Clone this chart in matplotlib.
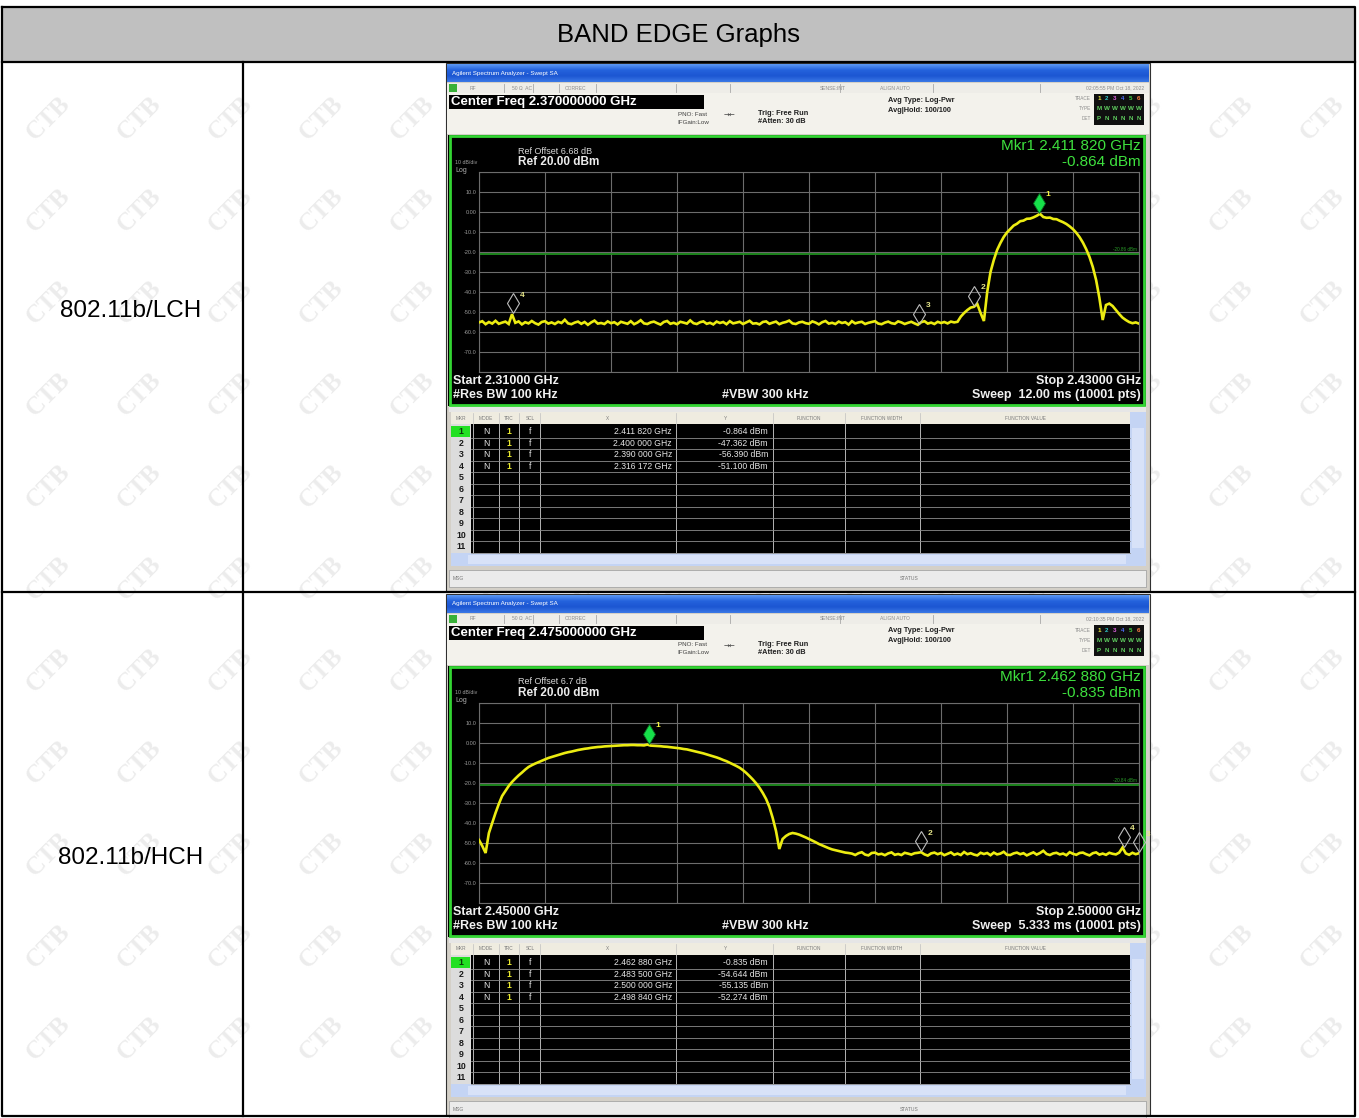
import numpy as np
import matplotlib
matplotlib.use("Agg")
import matplotlib.pyplot as plt
from matplotlib.patches import Rectangle
from matplotlib.transforms import offset_copy
from matplotlib.colors import to_rgb

plt.rcParams["font.family"] = ["Liberation Sans", "DejaVu Sans"]

# ---------------- data ----------------
TABLE_TITLE = "BAND EDGE Graphs"
ROW_LABELS = ["802.11b/LCH", "802.11b/HCH"]
REF_LEVEL_DBM = 20.0
DB_PER_DIV = 10.0

LCH_CENTER_FREQ = "2.370000000 GHz"
LCH_REF_OFFSET = "6.68 dB"
LCH_START_GHZ = 2.310
LCH_STOP_GHZ = 2.430
LCH_SWEEP = "12.00 ms"
LCH_TIME = "02:05:55 PM Oct 18, 2022"
LCH_DISPLAY_LINE_DBM = -20.86
LCH_LEVELS_DBM = [
    -55.2, -54.6, -56.1, -55.0, -55.8, -54.4, -55.9, -55.3, -54.8, -56.0,
    -51.1, -55.4, -54.7, -56.2, -55.1, -55.7, -54.5, -55.6, -56.3, -55.0,
    -54.6, -55.8, -55.2, -56.0, -54.9, -55.5, -53.9, -55.7, -56.1, -55.3,
    -54.8, -55.9, -55.0, -56.4, -55.2, -54.3, -55.8, -55.5, -56.0, -54.7,
    -55.6, -55.1, -56.2, -54.9, -55.4, -55.9, -54.6, -56.1, -55.3, -54.1,
    -55.7, -56.0, -55.2, -54.8, -55.6, -56.3, -55.0, -54.5, -55.9, -55.4,
    -56.1, -54.9, -55.3, -55.8, -54.2, -55.6, -56.0, -55.1, -54.7, -55.9,
    -55.4, -56.2, -54.8, -55.5, -55.0, -56.1, -54.6, -55.7, -55.3, -54.9,
    -56.0, -55.2, -54.4, -55.8, -55.6, -56.2, -55.0, -54.7, -55.9, -55.3,
    -54.8, -56.1, -55.4, -55.0, -54.3, -55.7, -56.0, -55.2, -54.9, -55.6,
    -55.9, -54.7, -55.3, -56.2, -55.1, -54.5, -55.8, -55.4, -56.0, -54.8,
    -55.5, -55.1, -56.3, -54.6, -55.7, -55.2, -54.9, -56.0, -55.4, -55.0,
    -54.6, -55.8, -56.1, -55.3, -54.8, -55.6, -55.9, -54.7, -55.2, -56.0,
    -55.4, -54.9, -55.7, -56.4, -55.1, -54.6, -55.8, -55.3, -56.0, -54.9,
    -55.5, -55.0, -55.7, -54.8, -55.2, -54.9,
    -52.3, -50.5, -49.0, -47.8, -47.4, -46.0, -50.5, -54.5, -40.0, -30.0,
    -24.0, -19.0, -15.5, -12.5, -10.2, -8.5, -6.8, -5.9, -4.6, -4.3,
    -3.4, -3.3, -2.7, -1.9, -0.9, -2.5, -2.9, -2.8, -3.5, -3.6,
    -4.4, -5.1, -6.0, -7.2, -8.6, -10.4, -12.6, -15.3, -18.6, -22.5,
    -27.5, -34.0, -43.0, -54.0, -46.5, -45.8, -47.0, -49.0, -51.0, -52.8,
    -54.0, -55.0, -55.6, -55.2, -55.8,
]
LCH_MKR_FREQ_GHZ = [2.411820, 2.400000, 2.390000, 2.316172]
LCH_MKR_LEVEL_DBM = [-0.864, -47.362, -56.390, -51.100]

HCH_CENTER_FREQ = "2.475000000 GHz"
HCH_REF_OFFSET = "6.7 dB"
HCH_START_GHZ = 2.450
HCH_STOP_GHZ = 2.500
HCH_SWEEP = "5.333 ms"
HCH_TIME = "02:10:35 PM Oct 18, 2022"
HCH_DISPLAY_LINE_DBM = -20.84
HCH_LEVELS_DBM = [
    -48.5, -51.5, -55.0, -45.0, -40.0, -35.0, -30.5, -26.5, -24.0, -21.5,
    -19.5, -17.8, -16.2, -14.8, -13.3, -12.0, -11.1, -10.3, -9.6, -8.9,
    -8.2, -7.5, -7.0, -6.5, -6.0, -5.5, -5.0, -4.6, -4.3, -3.9,
    -3.5, -3.2, -2.9, -2.7, -2.4, -2.2, -2.0, -1.9, -1.7, -1.6,
    -1.5, -1.4, -1.3, -1.2, -1.1, -1.1, -1.0, -1.0, -1.1, -1.1,
    -1.2, -0.8, -1.3, -1.4, -1.5, -1.6, -1.8, -1.9, -2.1, -2.3,
    -2.5, -2.7, -3.0, -3.2, -3.6, -4.0, -4.4, -4.8, -5.2, -5.7,
    -6.2, -6.7, -7.2, -7.8, -8.5, -9.1, -9.9, -10.7, -11.5, -12.4,
    -13.6, -15.0, -16.6, -18.3, -20.2, -22.4, -25.0, -28.0, -32.0, -37.5,
    -44.0, -53.0, -48.0, -46.5, -45.5, -45.0, -45.3, -45.8, -46.5, -47.2,
    -48.0, -48.8, -49.6, -50.5, -51.2, -51.9, -52.6, -53.2, -53.6, -54.0,
    -54.4, -54.8, -55.0,
    -55.3, -56.0, -55.1, -54.6, -55.8, -56.2, -55.0, -54.8, -55.7, -55.4,
    -56.1, -55.2, -54.7, -55.9, -55.5, -56.0, -54.9, -55.3, -55.8, -55.1,
    -54.9, -54.6, -55.7, -56.3, -55.2, -54.8, -55.6, -55.0, -56.1, -55.4,
    -54.7, -55.9, -55.3, -56.0, -54.5, -55.6, -55.1, -55.8, -56.2, -54.9,
    -55.5, -55.0, -56.1, -54.8, -55.7, -55.3, -54.4, -55.9, -56.0, -55.2,
    -54.8, -55.6, -55.1, -56.2, -55.4, -54.7, -55.8, -55.0, -53.9, -55.5,
    -56.0, -55.2, -54.9, -55.7, -55.3, -56.1, -54.6, -55.4, -55.9, -55.0,
    -54.8, -55.6, -56.2, -55.1, -54.7, -55.8, -55.3, -55.9, -54.9, -55.4,
    -55.7, -54.8, -52.3, -55.2, -55.9, -54.9, -55.6, -55.1,
]
HCH_MKR_FREQ_GHZ = [2.462880, 2.483500, 2.500000, 2.498840]
HCH_MKR_LEVEL_DBM = [-0.835, -54.644, -55.135, -52.274]

PANELS = [
    dict(center=LCH_CENTER_FREQ, ref_offset=LCH_REF_OFFSET, start=LCH_START_GHZ,
         stop=LCH_STOP_GHZ, sweep=LCH_SWEEP, time=LCH_TIME, dl=LCH_DISPLAY_LINE_DBM,
         levels=LCH_LEVELS_DBM, mf=LCH_MKR_FREQ_GHZ, ml=LCH_MKR_LEVEL_DBM),
    dict(center=HCH_CENTER_FREQ, ref_offset=HCH_REF_OFFSET, start=HCH_START_GHZ,
         stop=HCH_STOP_GHZ, sweep=HCH_SWEEP, time=HCH_TIME, dl=HCH_DISPLAY_LINE_DBM,
         levels=HCH_LEVELS_DBM, mf=HCH_MKR_FREQ_GHZ, ml=HCH_MKR_LEVEL_DBM),
]

# ---------------- figure ----------------
W, H = 1359, 1118
fig = plt.figure(figsize=(W / 100, H / 100), dpi=100)
ax = fig.add_axes([0, 0, 1, 1])
ax.set_xlim(0, W)
ax.set_ylim(H, 0)
ax.axis("off")


def R(x0, y0, x1, y1, **kw):
    kw.setdefault("lw", 0)
    ax.add_patch(Rectangle((x0, y0), x1 - x0, y1 - y0, **kw))


def T(x, y, s, **kw):
    kw.setdefault("va", "center")
    kw.setdefault("zorder", 3)
    ax.text(x, y, s, **kw)


def fmt_ghz(f):
    s = f"{f:.6f}"
    return s[:5] + " " + s[5:]


# watermark (kept fully inside the canvas)
for j in range(0, 11):
    for k in range(0, 15):
        ax.text(48 + 91 * k, 118 + 92 * j, "CTB", rotation=45, fontsize=18,
                fontweight="bold", family="Liberation Serif", color="#ececec",
                ha="center", va="center", rotation_mode="anchor", zorder=0.3)

# table
R(2, 7, 1355, 62, fc="#c0c0c0", zorder=0.5)
T(678.5, 35, TABLE_TITLE, ha="center", fontsize=18.5, color="black")
T(131, 311, ROW_LABELS[0], ha="center", fontsize=17.5, color="black")
T(131, 858, ROW_LABELS[1], ha="center", fontsize=17.5, color="black")
lk = dict(color="black", lw=1.6, zorder=6, solid_capstyle="projecting")
ax.plot([2, 1355, 1355, 2, 2], [7, 7, 1116, 1116, 7], **lk)
ax.plot([2, 1355], [62, 62], **lk)
ax.plot([2, 1355], [592, 592], **lk)
ax.plot([243, 243], [62, 1116], **lk)

GRAD_STOPS = ["#5b97f2", "#2462dc", "#1c56d2", "#3a78e6"]


def draw_screen(dy, p):
    X0, X1 = 446, 1150
    ybot = min(591 + dy, 1115)
    R(X0, 63 + dy, X1, ybot, fc="#d4d0c8", ec="#303030", lw=0.8, zorder=2)
    # title bar
    cols = np.array([to_rgb(c) for c in GRAD_STOPS])
    t = np.linspace(0, 1, 40)
    pos = np.linspace(0, 1, len(GRAD_STOPS))
    grad = np.stack([np.interp(t, pos, cols[:, c]) for c in range(3)], axis=-1)[:, None, :]
    ax.imshow(grad, extent=(X0 + 1, X1 - 1, 82 + dy, 64 + dy), aspect="auto",
              zorder=2.1, interpolation="bilinear")
    T(452, 73 + dy, "Agilent Spectrum Analyzer - Swept SA", fontsize=4.5, color="white")
    # toolbar
    R(X0 + 1, 83 + dy, X1 - 1, 93 + dy, fc="#eeede8", zorder=2.1)
    R(449, 84 + dy, 457, 92 + dy, fc="#38b038", zorder=2.2)
    for xs in [504, 533, 559, 596, 676, 730, 840, 933, 1040]:
        ax.plot([xs, xs], [84 + dy, 92 + dy], color="#a8a8a8", lw=0.6, zorder=2.2)
    tb = dict(fontsize=3.6, color="#8c8c8c")
    T(470, 88 + dy, "RF", **tb)
    T(512, 88 + dy, "50 \u03a9  AC", **tb)
    T(565, 88 + dy, "CORREC", **tb)
    T(820, 88 + dy, "SENSE:INT", **tb)
    T(880, 88 + dy, "ALIGN AUTO", **tb)
    T(1144, 88 + dy, p["time"], ha="right", **tb)
    # status area
    R(X0 + 1, 93 + dy, X1 - 1, 134 + dy, fc="#f3f2ec", zorder=2.1)
    R(449, 95 + dy, 704, 109 + dy, fc="black", zorder=2.2)
    T(451, 102 + dy, "Center Freq " + p["center"], fontsize=9.5, fontweight="bold",
      color="white")
    st = dict(fontsize=4.5, color="#404040")
    T(693, 114 + dy, "PNO: Fast", ha="center", **st)
    T(693, 122 + dy, "IFGain:Low", ha="center", **st)
    T(729, 116 + dy, "\u2192\u2190", ha="center", fontsize=5, color="#404040",
      family="DejaVu Sans")
    sb = dict(fontsize=5.3, color="#202020", fontweight="bold")
    T(758, 113.5 + dy, "Trig: Free Run", **sb)
    T(758, 121.5 + dy, "#Atten: 30 dB", **sb)
    T(888, 100 + dy, "Avg Type: Log-Pwr", **sb)
    T(888, 110 + dy, "Avg|Hold: 100/100", **sb)
    for yy, lab in zip([99, 109, 119], ["TRACE", "TYPE", "DET"]):
        T(1091, yy + dy, lab, ha="right", fontsize=3.4, color="#8c8c8c")
    R(1094, 94 + dy, 1144, 125 + dy, fc="#101010", zorder=2.2)
    row_chars = ["123456", "MWWWWW", "PNNNNN"]
    row_cols = [["#e8e840", "#30c8c8", "#e060e0", "#5070ff", "#40d040", "#ff8040"],
                ["#60d060"] * 6, ["#60d060"] * 6]
    for r, (chars, cc) in enumerate(zip(row_chars, row_cols)):
        for c, ch in enumerate(chars):
            T(1099 + 8 * c, 99 + 10 * r + dy, ch, ha="center", fontsize=4.5,
              color=cc[c], fontweight="bold")
    # plot frame
    R(448, 135 + dy, 1146, 406 + dy, fc="black", zorder=2.1)
    R(450, 136 + dy, 1144, 405 + dy, fc="none", ec="#33d633", lw=2.0, zorder=2.3)
    T(518, 151 + dy, "Ref Offset " + p["ref_offset"], fontsize=6.5, color="#d8d8d8")
    T(518, 162 + dy, f"Ref {REF_LEVEL_DBM:.2f} dBm", fontsize=8.5, fontweight="bold",
      color="#ececec")
    T(455, 162 + dy, f"{DB_PER_DIV:.0f} dB/div", fontsize=3.8, color="#a0a0a0")
    T(455, 170 + dy, "Log", fontsize=5, color="#b0b0b0")
    T(1141, 146 + dy, f"Mkr1 {fmt_ghz(p['mf'][0])} GHz", ha="right", fontsize=11,
      color="#3ee03e")
    T(1141, 162 + dy, f"{p['ml'][0]:.3f} dBm", ha="right", fontsize=11, color="#3ee03e")
    bt = dict(fontsize=9, fontweight="bold", color="#f0f0f0")
    T(453, 381 + dy, f"Start {p['start']:.5f} GHz", **bt)
    T(453, 395 + dy, "#Res BW 100 kHz", **bt)
    T(765, 395 + dy, "#VBW 300 kHz", ha="center", **bt)
    T(1141, 381 + dy, f"Stop {p['stop']:.5f} GHz", ha="right", **bt)
    T(1141, 395 + dy, f"Sweep  {p['sweep']} (10001 pts)", ha="right", **bt)

    # marker table
    R(449, 407 + dy, 1146, 412 + dy, fc="#e6e6e6", zorder=2.1)
    R(451, 412 + dy, 1130, 424 + dy, fc="#efece0", zorder=2.1)
    R(471, 424 + dy, 1130, 553 + dy, fc="black", zorder=2.1)
    R(451, 424 + dy, 471, 553 + dy, fc="#dcdcdc", zorder=2.1)
    R(451, 426 + dy, 470, 437 + dy, fc="#22e022", zorder=2.2)
    hdr = dict(fontsize=3.4, color="#7a7a7a", ha="center")
    for xx, lab in zip([461, 486, 509, 530, 607, 725, 809, 882, 1025],
                       ["MKR", "MODE", "TRC", "SCL", "X", "Y", "FUNCTION",
                        "FUNCTION WIDTH", "FUNCTION VALUE"]):
        T(xx, 418 + dy, lab, **hdr)
    for xx in [473, 499, 519, 540, 676, 773, 845, 920]:
        ax.plot([xx, xx], [413 + dy, 423 + dy], color="#c0c0c0", lw=0.5, zorder=2.2)
        ax.plot([xx, xx], [424 + dy, 553 + dy], color="#b4b4b4", lw=0.7, zorder=2.2)
    for i in range(11):
        yt = 426 + 11.5 * i + dy
        ax.plot([471, 1130], [yt + 11.5, yt + 11.5], color="#8c8c8c", lw=0.6, zorder=2.2)
        T(461, yt + 5.8, str(i + 1), ha="center", fontsize=6.3, fontweight="bold",
          color="#1a1a1a" if i else "#0a3a0a")
    cell = dict(fontsize=6.2, color="#e4e4e4")
    for i, (f, L) in enumerate(zip(p["mf"], p["ml"])):
        yc = 426 + 11.5 * i + 5.8 + dy
        T(486, yc, "N", ha="center", **cell)
        T(509, yc, "1", ha="center", fontsize=6.2, color="#e8e830", fontweight="bold")
        T(530, yc, "f", ha="center", **cell)
        T(672, yc, f"{fmt_ghz(f)} GHz", ha="right", **cell)
        T(768, yc, f"{L:.3f} dBm", ha="right", **cell)
    R(1130, 412 + dy, 1146, 553 + dy, fc="#c4d4f4", zorder=2.1)
    R(1132, 428 + dy, 1144, 548 + dy, fc="#d8e2f8", zorder=2.15)
    R(451, 553 + dy, 1146, 566 + dy, fc="#c4d4f4", zorder=2.1)
    R(468, 555 + dy, 1126, 564 + dy, fc="#d8e2f8", zorder=2.15)
    R(449, 570 + dy, 1146, 587 + dy, fc="#ebebeb", ec="#9a9a9a", lw=0.5, zorder=2.1)
    T(453, 578.5 + dy, "MSG", fontsize=3.6, color="#777777")
    T(900, 578.5 + dy, "STATUS", fontsize=3.6, color="#777777")


def draw_trace(dy, p):
    gx0, gx1, gy0, gy1 = 479, 1139, 172 + dy, 372 + dy
    a = fig.add_axes([gx0 / W, 1 - gy1 / H, (gx1 - gx0) / W, (gy1 - gy0) / H])
    a.set_facecolor("black")
    bottom = REF_LEVEL_DBM - 10 * DB_PER_DIV
    a.set_xlim(p["start"], p["stop"])
    a.set_ylim(bottom, REF_LEVEL_DBM)
    a.set_xticks(np.linspace(p["start"], p["stop"], 11))
    yt = np.arange(bottom, REF_LEVEL_DBM + 1, DB_PER_DIV)
    a.set_yticks(yt)
    labs = []
    for v in yt:
        if v in (bottom, REF_LEVEL_DBM):
            labs.append("")
        elif v == 0:
            labs.append("0.00")
        else:
            labs.append(f"{v:.1f}")
    a.set_yticklabels(labs)
    a.grid(True, color="#6c6c6c", lw=0.8)
    a.tick_params(length=0, labelbottom=False, labelsize=4, labelcolor="#9a9a9a", pad=2)
    for s in a.spines.values():
        s.set_color("#6c6c6c")
        s.set_linewidth(0.8)
    a.axhline(p["dl"], color="#1f8f1f", lw=1.3, zorder=2)
    a.text(0.997, p["dl"] + 1.0, f"{p['dl']:.2f} dBm", transform=a.get_yaxis_transform(),
           ha="right", va="bottom", fontsize=3.3, color="#2aa02a")
    lv = np.array(p["levels"])
    fr = np.linspace(p["start"], p["stop"], len(lv))
    a.plot(fr, lv, color="#ecec12", lw=1.9, zorder=3, solid_joinstyle="miter")
    tr_d = offset_copy(a.transData, fig=fig, x=0, y=11, units="dots")
    for k, (f, L) in enumerate(zip(p["mf"], p["ml"])):
        if k == 0:
            a.plot([f], [L], marker="d", ms=10, mfc="#16e04a", mec="#0b6a20", mew=0.6,
                   transform=tr_d, clip_on=False, zorder=5)
            col = "#f4f440"
        else:
            a.plot([f], [L], marker="d", ms=10, mfc="none", mec="#bdbdbd", mew=0.8,
                   transform=tr_d, clip_on=False, zorder=5)
            col = "#e6e68a"
        a.annotate(str(k + 1), (f, L), xytext=(9, 19), textcoords="offset pixels",
                   fontsize=6, color=col, fontweight="bold", ha="center", va="center",
                   annotation_clip=False, zorder=6)


for idx, p in enumerate(PANELS):
    dy = 531 * idx
    draw_screen(dy, p)
for idx, p in enumerate(PANELS):
    draw_trace(531 * idx, p)

ax.set_xlim(0, W)
ax.set_ylim(H, 0)
fig.savefig("out.png", dpi=100)
